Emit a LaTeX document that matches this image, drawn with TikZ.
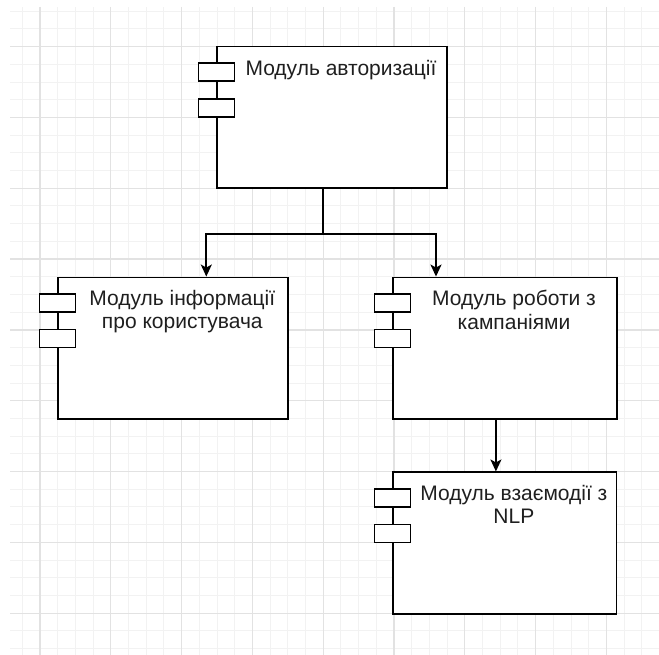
\documentclass[tikz,border=0pt]{standalone}
\usepackage{fontspec}
\setmainfont{Liberation Sans}
\usetikzlibrary{arrows.meta,calc}

\definecolor{gridminor}{HTML}{F2F2F2}
\definecolor{gridmajor}{HTML}{E2E2E2}
\tikzset{
  module/.style={draw, line width=1.8pt, fill=white, inner sep=0pt, minimum height=141.5pt},
  port/.style={draw, line width=1.8pt, fill=white, inner sep=0pt, minimum width=36pt, minimum height=18pt},
  modlabel/.style={anchor=north, align=center, inner sep=0pt, text=black!88,
    font=\fontsize{21}{23.3}\selectfont, execute at begin node=\strut},
  link/.style={line width=1.8pt, -{Stealth[length=12pt,width=11pt,inset=3pt]}}
}

\begin{document}
\begin{tikzpicture}[x=1pt,y=-1pt]
\useasboundingbox (0,0) rectangle (659,655);
% grid
\foreach \i in {-1,...,34}{
    \draw[gridminor, line width=1pt] (40+\i*17.7,7) -- (40+\i*17.7,655);
}
\foreach \j in {-2,...,34}{
    \draw[gridminor, line width=1pt] (10,46.7+\j*17.7) -- (659,46.7+\j*17.7);
}
\foreach \k in {0,...,8}{
    \draw[gridmajor, line width=1.2pt] (40+\k*70.8,7) -- (40+\k*70.8,655);
    \draw[gridmajor, line width=1.2pt] (10,46.7+\k*70.8) -- (659,46.7+\k*70.8);
}
% modules
\foreach \n/\x/\y/\w/\t in {auth/332/117.3/229.4/{Модуль авторизації},
    info/173.3/348.2/230/{Модуль інформації\\про користувача},
    camp/505/348.2/223.4/{Модуль роботи з\\кампаніями},
    nlp/504.9/543.1/223.2/{Модуль взаємодії з\\NLP}}{
    \node[module, minimum width=\w pt] (\n) at (\x,\y) {};
    \node[port] (\n-a) at ($(\n.north west)+(0,26.5)$) {};
    \node[port] (\n-b) at ($(\n.north west)+(0,62)$) {};
    \node[modlabel] (\n-t) at ($(\n.north)+(9,13.7)$) {\t};
}
% links
\coordinate (split) at ($(auth.south)+(-8.7,44.7)$);
\draw[line width=1.8pt] (auth.south -| split) -- (split);
\draw[link] (split) -| ([xshift=33pt]info.north);
\draw[link] (split) -| ([xshift=-69pt]camp.north);
\draw[link] ([xshift=-9pt]camp.south) -- ([xshift=-9pt]nlp.north);
\end{tikzpicture}
\end{document}
